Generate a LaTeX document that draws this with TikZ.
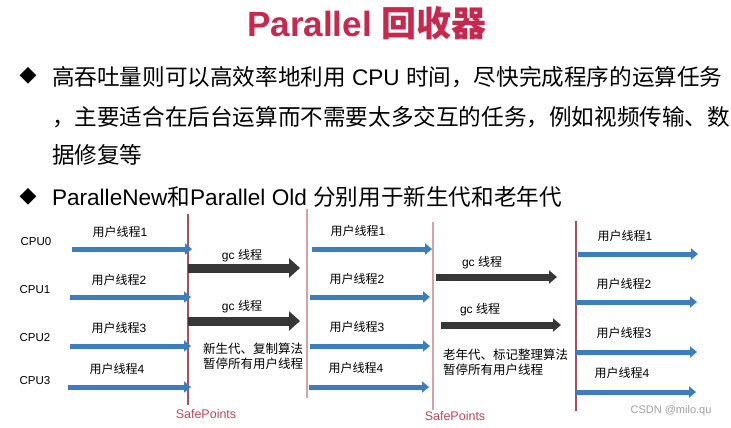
\documentclass[tikz,border=0pt]{standalone}
\usepackage{fontspec}
\setmainfont{Liberation Sans}
\newfontfamily\cjk{Noto Sans CJK SC}
\newfontfamily\symf{DejaVu Sans}
\usetikzlibrary{arrows.meta}
\definecolor{titlec}{HTML}{C8284E}
\definecolor{bluec}{HTML}{3B7DBD}
\definecolor{gcc}{HTML}{373737}
\definecolor{sdark}{HTML}{A8505E}
\definecolor{slight}{HTML}{D3A3AA}
\definecolor{spt}{HTML}{C0465A}
\definecolor{wm}{HTML}{A0A0A0}
\begin{document}
\begin{tikzpicture}[x=1pt,y=-1pt,
  every node/.style={inner sep=0pt,outer sep=0pt},
  body/.style={anchor=west,font=\fontsize{22.6}{27}\selectfont},
  bul/.style={font=\symf\fontsize{22}{24}\selectfont},
  cpu/.style={font=\fontsize{11.5}{14}\selectfont},
  ulab/.style={font=\fontsize{12}{14}\selectfont},
  note/.style={anchor=west,font=\fontsize{12.5}{16}\selectfont,align=left},
  sp/.style={text=spt,font=\fontsize{12.5}{15}\selectfont},
  uarrow/.style={draw=bluec,line width=5pt,-{Triangle[length=7pt,width=11pt]}},
  gcA/.style={draw=gcc,line width=9pt,-{Triangle[length=11pt,width=19pt]}},
  gcB/.style={draw=gcc,line width=7pt,-{Triangle[length=8pt,width=13pt]}},
  sline/.style={line width=1.2pt}
]
\useasboundingbox[fill=white] (0,0) rectangle (731,428);

% title
\node[text=titlec,font=\bfseries\fontsize{35}{40}\selectfont] (title) at (367,23)
  {Parallel {\cjk 回收器}};

% bullets and text
\node[bul] (b1) at (28,76) {◆};
\node[body] (l1) at (52,77) {{\cjk 高吞吐量则可以高效率地利用} CPU {\cjk 时间，尽快完成程序的运算任务}};
\node[body] (l2) at (52,117) {{\cjk ，主要适合在后台运算而不需要太多交互的任务，例如视频传输、数}};
\node[body] (l3) at (52,155) {{\cjk 据修复等}};
\node[bul] (b2) at (28,197) {◆};
\node[body] (l4) at (52,197) {ParalleNew{\cjk 和}Parallel Old {\cjk 分别用于新生代和老年代}};

% CPU labels
\node[cpu] (cpu0) at (36,242) {CPU0};
\node[cpu] (cpu1) at (35,290) {CPU1};
\node[cpu] (cpu2) at (35,338) {CPU2};
\node[cpu] (cpu3) at (35,381) {CPU3};

% safepoint lines
\coordinate (s1t) at (188,214); \coordinate (s1b) at (188,405);
\coordinate (s2t) at (307,209); \coordinate (s2b) at (307,398);
\coordinate (s3t) at (433,222); \coordinate (s3b) at (433,410);
\coordinate (s4t) at (576,221); \coordinate (s4b) at (576,411);
\draw[sline,draw=sdark] (s1t) -- (s1b);
\draw[sline,draw=slight] (s2t) -- (s2b);
\draw[sline,draw=slight] (s3t) -- (s3b);
\draw[sline,draw=sdark] (s4t) -- (s4b);
\node[sp] (sp1) at (206,414) {SafePoints};
\node[sp] (sp2) at (455,416) {SafePoints};

% section 1 user threads
\coordinate (a1s) at (72,249); \coordinate (a1e) at (192,249);
\coordinate (a2s) at (70,297); \coordinate (a2e) at (191,297);
\coordinate (a3s) at (70,346); \coordinate (a3e) at (191,346);
\coordinate (a4s) at (68,387); \coordinate (a4e) at (191,387);
\draw[uarrow] (a1s) -- (a1e);
\draw[uarrow] (a2s) -- (a2e);
\draw[uarrow] (a3s) -- (a3e);
\draw[uarrow] (a4s) -- (a4e);
\node[ulab] (u11) at (120,232) {{\cjk 用户线程}1};
\node[ulab] (u12) at (119,280) {{\cjk 用户线程}2};
\node[ulab] (u13) at (119,328) {{\cjk 用户线程}3};
\node[ulab] (u14) at (117,369) {{\cjk 用户线程}4};

% section 1 gc threads
\coordinate (g1s) at (188,268); \coordinate (g1e) at (300,268);
\coordinate (g2s) at (188,321); \coordinate (g2e) at (300,321);
\draw[gcA] (g1s) -- (g1e);
\draw[gcA] (g2s) -- (g2e);
\node[ulab] (gl1) at (242,256) {gc {\cjk 线程}};
\node[ulab] (gl2) at (242,307) {gc {\cjk 线程}};
\node[note] (n1) at (203,356) {{\cjk 新生代、复制算法}\\[-1pt]{\cjk 暂停所有用户线程}};

% section 2 user threads
\coordinate (b1s) at (312,249); \coordinate (b1e) at (432,249);
\coordinate (b2s) at (310,297); \coordinate (b2e) at (430,297);
\coordinate (b3s) at (310,346); \coordinate (b3e) at (430,346);
\coordinate (b4s) at (309,387); \coordinate (b4e) at (429,387);
\draw[uarrow] (b1s) -- (b1e);
\draw[uarrow] (b2s) -- (b2e);
\draw[uarrow] (b3s) -- (b3e);
\draw[uarrow] (b4s) -- (b4e);
\node[ulab] (u21) at (358,231) {{\cjk 用户线程}1};
\node[ulab] (u22) at (357,279) {{\cjk 用户线程}2};
\node[ulab] (u23) at (357,327) {{\cjk 用户线程}3};
\node[ulab] (u24) at (356,368) {{\cjk 用户线程}4};

% section 2 gc threads
\coordinate (h1s) at (436,277); \coordinate (h1e) at (557,277);
\coordinate (h2s) at (441,325); \coordinate (h2e) at (561,325);
\draw[gcB] (h1s) -- (h1e);
\draw[gcB] (h2s) -- (h2e);
\node[ulab] (gl3) at (482,263) {gc {\cjk 线程}};
\node[ulab] (gl4) at (480,310) {gc {\cjk 线程}};
\node[note] (n2) at (443,362) {{\cjk 老年代、标记整理算法}\\[-1pt]{\cjk 暂停所有用户线程}};

% section 3 user threads
\coordinate (c1s) at (578,254); \coordinate (c1e) at (698,254);
\coordinate (c2s) at (576,302); \coordinate (c2e) at (697,302);
\coordinate (c3s) at (576,352); \coordinate (c3e) at (697,352);
\coordinate (c4s) at (576,392); \coordinate (c4e) at (696,392);
\draw[uarrow] (c1s) -- (c1e);
\draw[uarrow] (c2s) -- (c2e);
\draw[uarrow] (c3s) -- (c3e);
\draw[uarrow] (c4s) -- (c4e);
\node[ulab] (u31) at (625,236) {{\cjk 用户线程}1};
\node[ulab] (u32) at (624,284) {{\cjk 用户线程}2};
\node[ulab] (u33) at (624,333) {{\cjk 用户线程}3};
\node[ulab] (u34) at (622,373) {{\cjk 用户线程}4};

% watermark
\node[text=wm,font=\fontsize{11}{13}\selectfont] (wm) at (671,411) {CSDN @milo.qu};
\end{tikzpicture}
\end{document}
